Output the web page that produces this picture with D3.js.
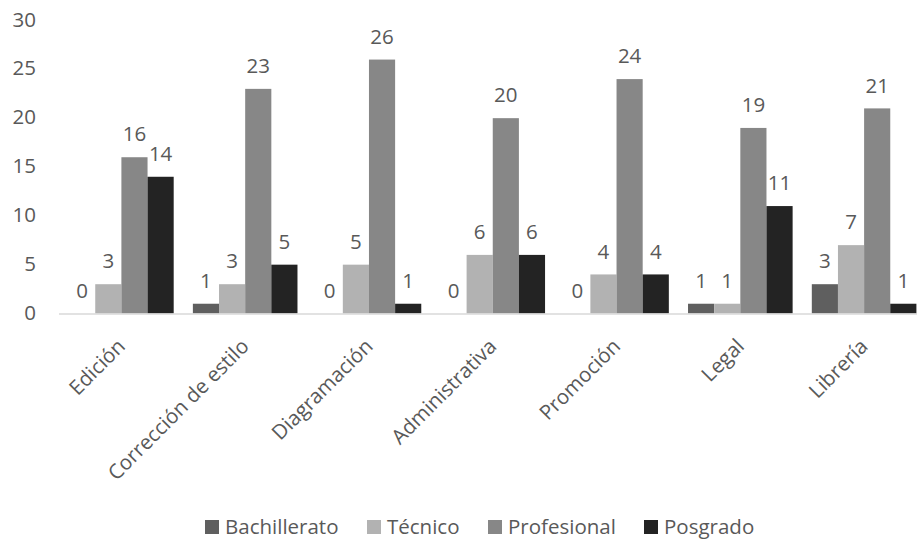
<!DOCTYPE html>
<html>
<head>
<meta charset="utf-8">
<script src="https://cdn.jsdelivr.net/npm/d3@7"></script>
<style>
  body { margin: 0; background: #fff; }
  svg { display: block; }
  text { font-family: "Open Sans", sans-serif; fill: #595959; }
</style>
</head>
<body>
<svg id="chart" width="917" height="542"></svg>
<script>
// Areas of work and education level counts
const categories = ["Edición", "Corrección de estilo", "Diagramación", "Administrativa", "Promoción", "Legal", "Librería"];
const seriesNames = ["Bachillerato", "Técnico", "Profesional", "Posgrado"];
const bachillerato = [0, 1, 0, 0, 0, 1, 3];
const tecnico      = [3, 3, 5, 6, 4, 1, 7];
const profesional  = [16, 23, 26, 20, 24, 19, 21];
const posgrado     = [14, 5, 1, 6, 4, 11, 1];
const yTicks = [0, 5, 10, 15, 20, 25, 30];
const colors = ["#5f5f5f", "#b2b2b2", "#878787", "#232323"];

const series = [bachillerato, tecnico, profesional, posgrado];

const svg = d3.select("#chart");
const fontSize = 20.5;

// Plot region
const x0 = d3.scaleBand().domain(categories).range([59.5, 926]).paddingInner(0).paddingOuter(0);
const groupInner = 0.155;
const x1 = d3.scaleBand().domain(seriesNames)
  .range([x0.bandwidth() * groupInner / 2, x0.bandwidth() * (1 - groupInner / 2)]);
const y = d3.scaleLinear().domain([0, 30]).range([313.5, 20.5]);

// Y tick labels (no axis line, no gridlines)
svg.append("g").selectAll("text").data(yTicks).join("text")
  .attr("x", 36).attr("y", d => y(d)).attr("dy", "0.3em")
  .attr("text-anchor", "end").attr("font-size", fontSize)
  .text(d => d);

// Bars and value labels
const groups = svg.append("g").selectAll("g").data(categories).join("g")
  .attr("transform", d => `translate(${x0(d)},0)`);

seriesNames.forEach((name, si) => {
  groups.append("rect")
    .attr("x", x1(name))
    .attr("width", x1.bandwidth())
    .attr("y", (d, ci) => y(series[si][ci]))
    .attr("height", (d, ci) => y(0) - y(series[si][ci]))
    .attr("fill", colors[si]);
  groups.append("text")
    .attr("x", x1(name) + x1.bandwidth() / 2)
    .attr("y", (d, ci) => y(series[si][ci]) - 23)
    .attr("dy", "0.35em")
    .attr("text-anchor", "middle").attr("font-size", fontSize)
    .text((d, ci) => series[si][ci]);
});

// Category axis line
svg.append("line")
  .attr("x1", 59).attr("x2", 917)
  .attr("y1", y(0) + 0.5).attr("y2", y(0) + 0.5)
  .attr("stroke", "#d9d9d9").attr("stroke-width", 1.5);

// Rotated category labels
svg.append("g").selectAll("text").data(categories).join("text")
  .attr("transform", d => `translate(${x0(d) + x0.bandwidth() / 2},${y(0) + 29}) rotate(-45)`)
  .attr("text-anchor", "end").attr("dy", "0.35em").attr("font-size", fontSize)
  .text(d => d);

// Legend
const legendX = [205, 367, 488, 644];
const legend = svg.append("g").selectAll("g").data(seriesNames).join("g")
  .attr("transform", (d, i) => `translate(${legendX[i]},527)`);
legend.append("rect").attr("x", 0).attr("y", -7).attr("width", 14).attr("height", 14)
  .attr("fill", (d, i) => colors[i]);
legend.append("text").attr("x", 20).attr("dy", "0.35em").attr("font-size", fontSize)
  .text(d => d);
</script>
</body>
</html>
